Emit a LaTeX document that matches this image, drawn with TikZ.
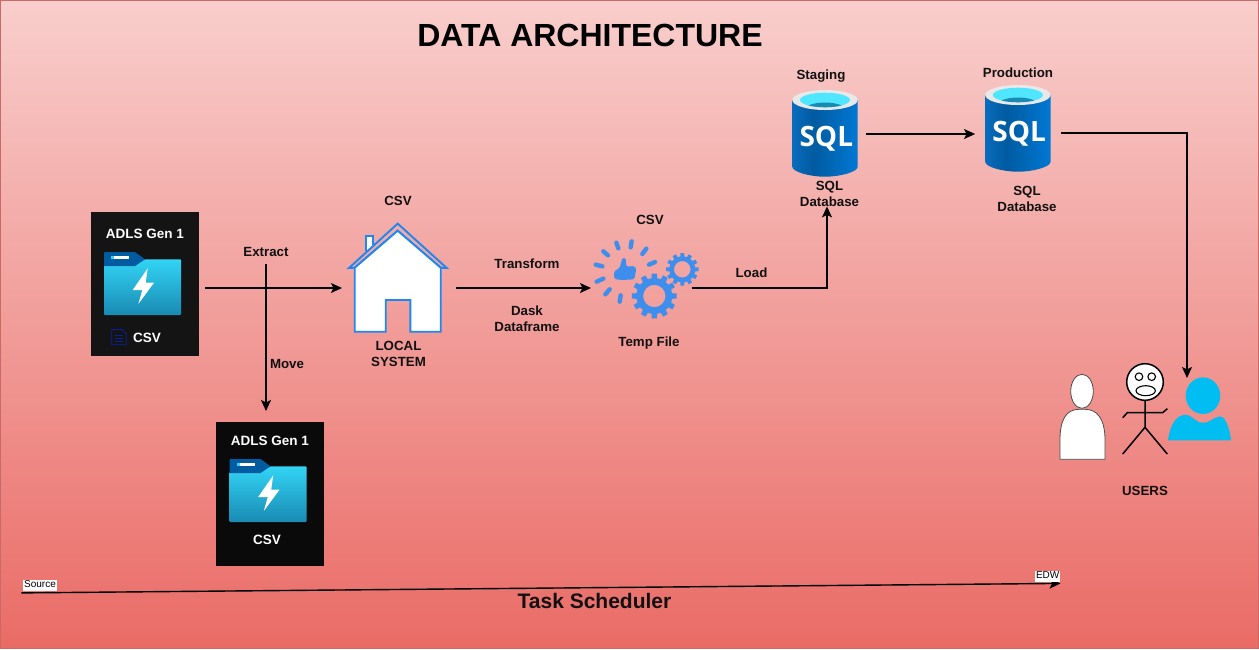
\documentclass[tikz,border=0pt]{standalone}
\usepackage{fontspec}
\setmainfont{Liberation Sans}
\newfontfamily\sqlfont{Open Sans}
\usetikzlibrary{arrows.meta,backgrounds}
\definecolor{bgtop}{HTML}{F8CECC}
\definecolor{bgbot}{HTML}{EA6B66}
\definecolor{bgline}{HTML}{C96A66}
\definecolor{folderdark}{HTML}{005BA1}
\definecolor{foldertop}{HTML}{32D4F5}
\definecolor{folderbot}{HTML}{198AB3}
\definecolor{docblue}{HTML}{0B1FA0}
\definecolor{housblue}{HTML}{1E88F0}
\definecolor{gearblue}{HTML}{3E8EED}
\definecolor{sqlrim}{HTML}{E8E8E8}
\definecolor{sqlwater}{HTML}{50E6FF}
\definecolor{sqlwaterd}{HTML}{198AB3}
\definecolor{userblue}{HTML}{00BEF2}
\definecolor{inktext}{HTML}{111111}
\definecolor{sqla}{HTML}{0A6CBD}
\definecolor{sqlb}{HTML}{005BA1}
\definecolor{sqlc}{HTML}{0078D4}
\pgfdeclarehorizontalshading{sqlbody}{100bp}{color(0bp)=(sqla); color(25bp)=(sqla); color(41bp)=(sqlb); color(75bp)=(sqlc); color(100bp)=(sqlc)}
\tikzset{
  lab/.style={font=\fontsize{13.3}{16}\selectfont\bfseries,align=center,inner sep=0pt,text=inktext},
  boxlab/.style={font=\fontsize{13.5}{16}\selectfont\bfseries,align=center,inner sep=0pt,text=white},
  tag/.style={font=\fontsize{10}{11}\selectfont,fill=white,inner xsep=1pt,inner ysep=0pt,text height=8pt,text depth=3pt,text=black},
  holder/.style={inner sep=0pt,outer sep=0pt},
  conn/.style={draw=black,line width=1.4pt,-{Stealth[length=11pt,width=10pt,inset=2.5pt]}},
  person/.style={draw=black!70,line width=0.8pt,fill=white},
  stick/.style={draw=black,line width=1.5pt},
  rayline/.style={draw=gearblue,line width=4.4pt,line cap=round},
  houseline/.style={draw=housblue,line width=1.9pt,line join=miter}
}
% folder whose top left corner is at #1,#2
\newcommand{\folderpic}[2]{%
  \begin{scope}[shift={(#1,#2)}]
    \shade[top color=foldertop,bottom color=folderbot,rounded corners=0.8pt]
      (0,13) -- (31,13) -- (41,7.3) -- (77,7.3) -- (77,63) -- (0,63) -- cycle;
    \fill[folderdark] (0,1) [rounded corners=0.8pt] -- (0,0) -- (31,0) [sharp corners] -- (41,7.3) -- (31,14) -- (0,14) -- cycle;
    \fill[white] (10,4) rectangle (25,7.3);
    \fill[foldertop] (7,4) rectangle (10,7.3);
    \fill[white] (43.7,16.3) -- (28.7,38) -- (38.3,38) -- (34.3,52) -- (50,30.7) -- (41.7,30.7) -- cycle;
  \end{scope}}
% cylinder whose top ellipse is centred at #1,#2
\newcommand{\sqlpic}[2]{%
  \begin{scope}[shift={(#1,#2)}]
    \shade[shading=sqlbody]
      (-32.7,0) -- (-32.7,66.7) .. controls (-32.7,72) and (-15,76.7) .. (0,76.7)
      .. controls (15,76.7) and (32.7,72) .. (32.7,66.7) -- (32.7,0) -- cycle;
    \fill[sqlrim] (0,0) ellipse [x radius=32.7,y radius=10];
    \fill[sqlwater] (0,0) ellipse [x radius=25,y radius=7.3];
    \begin{scope}
      \clip (0,0) ellipse [x radius=25,y radius=7.3];
      \fill[sqlwaterd] (0,9.5) ellipse [x radius=20,y radius=7];
    \end{scope}
    \node[text=white,inner sep=0pt,font=\sqlfont\fontsize{28}{30}\selectfont\bfseries] at (1.3,38.5) {SQL};
  \end{scope}}
% gear: centre #1,#2, outer radius #3, root radius #4, hole radius #5
\newcommand{\gearpic}[5]{%
  \begin{scope}[shift={(#1,#2)}]
    \fill[gearblue,even odd rule] (-9:#4)
      \foreach \a in {0,30,...,330} {
        -- (\a-9:#4) -- (\a-6.5:#3) -- (\a+6.5:#3) -- (\a+9:#4) -- (\a+21:#4)
      } -- cycle (0,0) circle (#5);
  \end{scope}}
\begin{document}
\begin{tikzpicture}[x=1pt,y=-1pt]
\useasboundingbox (0,0) rectangle (1259,649);
\begin{scope}[on background layer]
  \shade[top color=bgtop,bottom color=bgbot,draw=bgline,line width=0.8pt] (0.4,0.4) rectangle (1258.6,648.6);
\end{scope}

\node[font=\fontsize{32}{36}\selectfont\bfseries,inner sep=0pt,text=black] (title) at (590,35) {DATA ARCHITECTURE};

% black ADLS cards
\node[holder,fill=black!92,minimum width=108.5pt,minimum height=144.5pt] (adlsa) at (145.2,284) {};
\node[holder,fill=black!96,minimum width=108.5pt,minimum height=144pt] (adlsb) at (270.2,493.7) {};
\folderpic{104}{252}
\folderpic{229.5}{459}
\node[boxlab] (adlsatitle) at (145,234) {ADLS Gen 1};
\node[boxlab] (adlsacsv) at (147,338) {CSV};
\node[boxlab] (adlsbtitle) at (270,441) {ADLS Gen 1};
\node[boxlab] (adlsbcsv) at (267,540) {CSV};
\draw[docblue,line width=0.8pt,line join=round] (111.7,329.5) -- (122,329.5) -- (126.3,333.5) -- (126.3,344.7) -- (111.7,344.7) -- cycle;
\draw[docblue,line width=0.8pt] (115,335) -- (123,335) (115,338) -- (123,338) (115,341) -- (123,341);

% house
\node[holder,minimum width=98pt,minimum height=88pt] (localsys) at (398,288) {};
\draw[houseline,fill=white] (366,251) -- (366,236) -- (373,236) -- (373,245);
\draw[houseline]
  (349,268) -- (397.7,223.6) -- (446.7,268) -- (440.7,267.7) -- (397.7,230.7) -- (354.7,267.7) -- cycle;
\draw[houseline,fill=white]
  (354.7,267.7) -- (397.7,230.7) -- (440.7,267.7) -- (440.7,331.7) -- (410.3,331.7) -- (410.3,300) -- (385.7,300) -- (385.7,331.7) -- (354.7,331.7) -- cycle;
\node[lab] (csvhouse) at (398,201) {CSV};
\node[lab] (localtext) at (398.5,354) {LOCAL\\SYSTEM};

% gears and thumb
\node[holder,minimum width=98pt,minimum height=96pt] (gears) at (643,288) {};
\gearpic{654.3}{296}{22.5}{18}{11.2}
\gearpic{682.3}{269.3}{16.3}{13}{8.3}
\begin{scope}[shift={(585,230)},x=0.3333pt,y=-0.3333pt]
  \fill[gearblue,rounded corners=1.5pt] (87,124) -- (104,114) -- (112,84) -- (122,84) -- (124,110) -- (148,108) -- (154,116) -- (148,148) -- (110,150) -- (88,147) -- cycle;
  \draw[rayline] (55,64) -- (69,76);
  \draw[rayline] (94,38) -- (100,55);
  \draw[rayline] (140,34) -- (137,52);
  \draw[rayline] (184,56) -- (172,72);
  \draw[rayline] (192,104) -- (210,96);
  \draw[rayline] (32,104) -- (52,109);
  \draw[rayline] (35,155) -- (55,146);
  \draw[rayline] (61,193) -- (74,178);
  \draw[rayline] (107,196) -- (104,215);
\end{scope}
\node[lab] (csvgear) at (650,219.5) {CSV};
\node[lab] (tempfile) at (649,343) {Temp File};

% sql databases
\node[holder,minimum width=69pt,minimum height=88pt] (sqlstage) at (827,134) {};
\node[holder,minimum width=65.6pt,minimum height=96pt] (sqlprod) at (1017.9,133) {};
\sqlpic{825}{100}
\sqlpic{1017.9}{95}
\node[lab] (stagetext) at (821,76) {Staging};
\node[lab] (prodtext) at (1018,72.5) {Production};
\node[lab] (sqlstagetext) at (829.5,193.5) {SQL\\Database};
\node[lab] (sqlprodtext) at (1027,199) {SQL\\Database};

% users
\node[holder,minimum width=46pt,minimum height=86pt] (userwhite) at (1082.4,417) {};
\node[holder,minimum width=46pt,minimum height=92pt] (userstick) at (1145,409) {};
\node[holder,minimum width=63pt,minimum height=62pt] (userblue) at (1187,409) {};
\draw[person] (1060,459.3) -- (1105,459.3) -- (1105,440) .. controls (1105,420) and (1098,409.3) .. (1085,409.3) -- (1079,409.3) .. controls (1066,409.3) and (1060,420) .. (1060,440) -- cycle;
\draw[person] (1082,391.3) ellipse [x radius=11.3,y radius=17];
\draw[stick,fill=white] (1145,382) circle (18.3);
\draw[stick,line width=1.1pt,fill=white] (1139,376.7) circle (3.8);
\draw[stick,line width=1.1pt,fill=white] (1151.7,376.7) circle (3.8);
\draw[stick,line width=1.1pt,fill=white] (1145.7,390.7) ellipse [x radius=9.7,y radius=5];
\draw[stick] (1145,400.3) -- (1145,427.3) (1122.7,417.7) -- (1127.3,412.7) -- (1162.7,412.7) -- (1167.3,408.7) (1122.7,454) -- (1145,427.3) -- (1167.3,454);
\fill[userblue] (1203,395.7) ellipse [x radius=17.3,y radius=18.3];
\fill[userblue] (1168,440.3) .. controls (1170,425) and (1176,414.7) .. (1186,414.7) .. controls (1192,414.7) and (1195,422.7) .. (1203,422.7) .. controls (1211,422.7) and (1214,416.5) .. (1220,416.5) .. controls (1226,416.5) and (1230,430) .. (1231,440.3) -- cycle;
\node[lab] (userstext) at (1145,491) {USERS};

% edge labels
\node[lab] (extract) at (266,252) {Extract};
\node[lab] (move) at (287,364) {Move};
\node[lab] (transform) at (527,264) {Transform};
\node[lab] (dask) at (527,318.5) {Dask\\Dataframe};
\node[lab] (load) at (751.5,273) {Load};

% connectors
\draw[conn,shorten <=5.8pt,shorten >=7pt] (adlsa.east |- localsys.west) -- (localsys.west);
\draw[conn,shorten <=7pt,shorten >=10.7pt] (extract.south) -- (extract.south |- adlsb.north);
\draw[conn,shorten <=9pt,shorten >=3pt] (localsys.east) -- (gears.west);
\draw[conn] (gears.east) -| ([xshift=-2.5pt]sqlstagetext.south);
\draw[conn,shorten <=4.5pt,shorten >=10pt] (sqlstage.east) -- (sqlstage.east -| sqlprod.west);
\draw[conn,shorten <=10.3pt] (sqlprod.east) -| (userblue.north);

% timeline
\node[tag] (source) at (40,585.2) {Source};
\node[tag] (edw) at (1047.7,576.2) {EDW};
\node[font=\fontsize{21}{24}\selectfont\bfseries,inner sep=0pt,text=inktext] (scheduler) at (594.5,601) {Task Scheduler};
\begin{scope}[on background layer]
  \draw[conn] ([shift={(-1.6,2)}]source.south west) -- ([shift={(0,1.5)}]edw.south east);
\end{scope}
\end{tikzpicture}
\end{document}
